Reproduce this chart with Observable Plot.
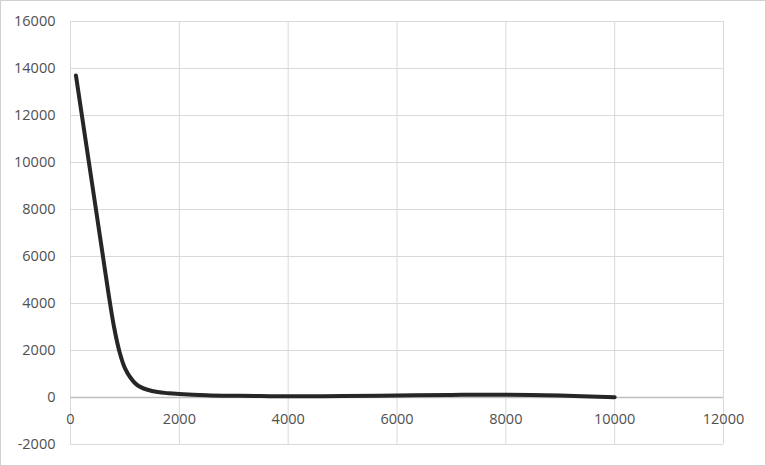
<!DOCTYPE html>
<html>
<head>
<meta charset="utf-8">
<script src="https://cdn.jsdelivr.net/npm/d3@7"></script>
<script src="https://cdn.jsdelivr.net/npm/@observablehq/plot@0.6"></script>
<style>
  html, body { margin: 0; padding: 0; background: #fff; }
  #chart svg { display: block; outline: 1px solid #d0d0d0; outline-offset: -1px; }
</style>
</head>
<body>
<div id="chart"></div>
<script>
const xValues = [100, 200, 300, 400, 500, 600, 700, 800, 900, 1000, 1100, 1200, 1300, 1400, 1600, 1800, 2000, 2500, 3000, 3500, 4000, 5000, 6000, 7000, 8000, 9000, 10000];
const yValues = [13700, 12150, 10600, 9050, 7500, 5950, 4400, 3000, 1950, 1250, 850, 580, 430, 340, 230, 180, 150, 100, 75, 60, 55, 60, 85, 110, 120, 80, 10];
const xTicks = [0, 2000, 4000, 6000, 8000, 10000, 12000];
const yTicks = [-2000, 0, 2000, 4000, 6000, 8000, 10000, 12000, 14000, 16000];

const data = xValues.map((x, i) => ({x, y: yValues[i]}));

const chart = Plot.plot({
  width: 766,
  height: 466,
  marginLeft: 70,
  marginRight: 43,
  marginTop: 21,
  marginBottom: 22,
  style: {fontFamily: "'Open Sans', sans-serif", fontSize: "14.5px", color: "#505050", background: "#fff"},
  x: {domain: [0, 12000], axis: null},
  y: {domain: [-2000, 16000], ticks: yTicks, tickSize: 0, tickPadding: 15, tickFormat: d => String(d), label: null},
  marks: [
    Plot.ruleY(yTicks.filter(d => d !== 0), {stroke: "#d9d9d9", strokeWidth: 1}),
    Plot.ruleX(xTicks, {stroke: "#d9d9d9", strokeWidth: 1}),
    Plot.ruleY([0], {stroke: "#bfbfbf", strokeWidth: 1.5}),
    Plot.text(xTicks, {x: d => d, y: 0, dy: 22, text: d => String(d), fill: "#505050", fontSize: 14.5}),
    Plot.line(data, {x: "x", y: "y", curve: "catmull-rom", stroke: "#262626", strokeWidth: 4})
  ]
});
document.getElementById("chart").appendChild(chart);
</script>
</body>
</html>
